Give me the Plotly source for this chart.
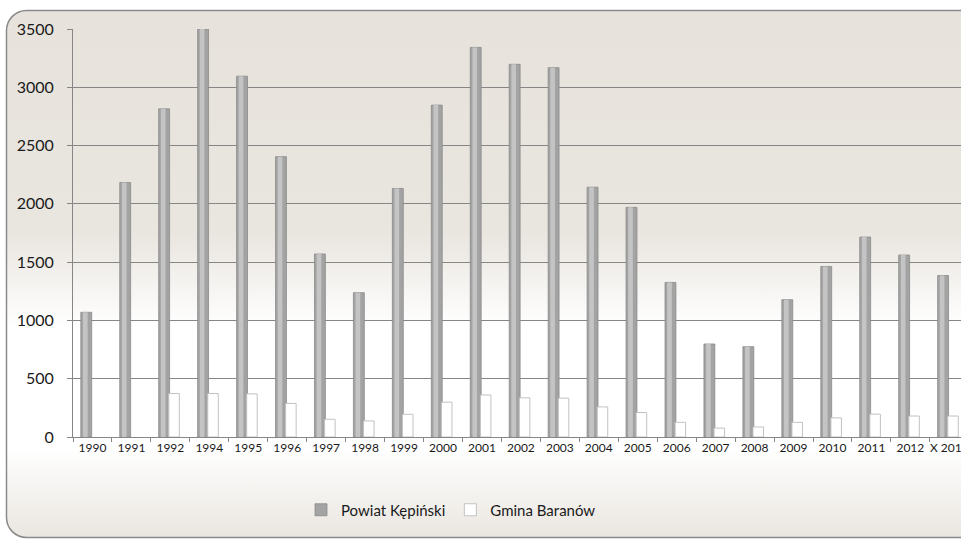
import base64
import plotly.graph_objects as go

# ---- data ----
years = ["1990", "1991", "1992", "1994", "1995", "1996", "1997", "1998", "1999",
         "2000", "2001", "2002", "2003", "2004", "2005", "2006", "2007", "2008",
         "2009", "2010", "2011", "2012", "X 2013"]
powiat = [1070, 2183, 2815, 3500, 3095, 2405, 1570, 1238, 2132,
          2847, 3342, 3197, 3168, 2143, 1970, 1326, 798, 775,
          1178, 1463, 1715, 1561, 1385]
gmina = [None, None, 373, 373, 370, 288, 152, 138, 195,
         299, 360, 336, 333, 258, 210, 126, 76, 86,
         126, 164, 196, 180, 180]
y_ticks = [0, 500, 1000, 1500, 2000, 2500, 3000, 3500]

FONT = "Lato"
W, H = 961, 541
L, R, T, B = 73, 0, 29, 104
pw, ph = W - L - R, H - T - B
SVG_W = 1300

# ---- background (panel open to the right, rounded left corners, vertical gradient) ----
svg = f'''<svg xmlns="http://www.w3.org/2000/svg" width="{SVG_W}" height="{H}" viewBox="0 0 {SVG_W} {H}">
<defs><linearGradient id="g" gradientUnits="userSpaceOnUse" x1="0" y1="10" x2="0" y2="538">
<stop offset="0" stop-color="#E7E3DC"/>
<stop offset="0.42" stop-color="#E9E5DF"/>
<stop offset="0.60" stop-color="#FFFFFF"/>
<stop offset="0.83" stop-color="#FFFFFF"/>
<stop offset="1" stop-color="#EAE6E0"/>
</linearGradient></defs>
<path d="M {SVG_W},10.5 H 26.5 A 20 20 0 0 0 6.5 30.5 V 517.5 A 20 20 0 0 0 26.5 537.5 H {SVG_W} Z" fill="url(#g)" stroke="none"/>
<path d="M {SVG_W},10.5 H 26.5 A 20 20 0 0 0 6.5 30.5 V 517.5 A 20 20 0 0 0 26.5 537.5 H {SVG_W}" fill="none" stroke="#8A8A8A" stroke-width="1.5"/>
</svg>'''
src = "data:image/svg+xml;base64," + base64.b64encode(svg.encode()).decode()

fig = go.Figure()

# grey series: base + highlight to suggest cylinder shading
fig.add_trace(go.Bar(
    x=years, y=powiat, name="Powiat Kępiński",
    offset=-0.30, width=0.28,
    marker=dict(color="#A3A3A3", line=dict(color="#8A8A8A", width=0.8)),
))
fig.add_trace(go.Bar(
    x=years, y=powiat, showlegend=False, hoverinfo="skip",
    offset=-0.245, width=0.12,
    marker=dict(color="#C4C4C4", line=dict(width=0)),
))
fig.add_trace(go.Bar(
    x=years, y=gmina, name="Gmina Baranów",
    offset=-0.04, width=0.27,
    marker=dict(color="#FFFFFF", line=dict(color="#C2C2C2", width=1)),
))

fig.update_layout(
    width=W, height=H,
    margin=dict(l=L, r=R, t=T, b=B, autoexpand=False),
    barmode="overlay",
    paper_bgcolor="rgba(0,0,0,0)",
    plot_bgcolor="rgba(0,0,0,0)",
    font=dict(family=FONT, color="#1A1A1A"),
    images=[dict(source=src, xref="paper", yref="paper",
                 x=-L / pw, y=(ph + T) / ph, sizex=SVG_W / pw, sizey=H / ph,
                 xanchor="left", yanchor="top", sizing="stretch", layer="below")],
    legend=dict(orientation="h", x=(451 - L) / pw, xanchor="center",
                y=(437 - 510) / ph, yanchor="middle",
                font=dict(size=15, family=FONT, color="#1A1A1A"),
                bgcolor="rgba(0,0,0,0)", itemwidth=30, traceorder="normal"),
    showlegend=True,
)
fig.update_xaxes(
    type="category", range=[-0.5, 22.3], automargin=False,
    showline=True, linecolor="#868686", linewidth=1,
    ticks="outside", tickson="boundaries", ticklen=4, tickcolor="#868686",
    tickangle=0,
    tickfont=dict(size=12, family=FONT, color="#1A1A1A"),
    showgrid=False, fixedrange=True,
)
fig.update_yaxes(
    range=[0, 3500], tickvals=y_ticks, automargin=False,
    showline=True, linecolor="#868686", linewidth=1,
    ticks="outside", ticklen=5, tickcolor="#868686",
    ticklabelstandoff=10,
    tickfont=dict(size=16, family=FONT, color="#1A1A1A"),
    showgrid=True, gridcolor="#868686", gridwidth=1,
    zeroline=False,
)

fig.write_html("out.html", config={"displayModeBar": False},
               post_script="document.body.style.margin='0';document.body.style.overflow='hidden';")
